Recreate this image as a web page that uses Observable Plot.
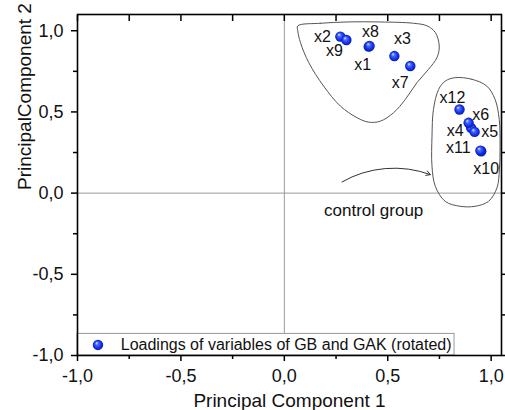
<!DOCTYPE html>
<html><head><meta charset="utf-8">
<script src="https://cdn.jsdelivr.net/npm/d3@7"></script>
<script src="https://cdn.jsdelivr.net/npm/@observablehq/plot@0.6"></script>
<style>body{margin:0;background:#fff;} svg{display:block;}</style>
</head><body><div id="chart"></div>
<script>
// ---- data ----
const variables = ["x1","x2","x3","x4","x5","x6","x7","x8","x9","x10","x11","x12"];
const pc1 = [0.408, 0.271, 0.532, 0.903, 0.920, 0.891, 0.609, 0.412, 0.300, 0.952, 0.948, 0.847];
const pc2 = [0.902, 0.964, 0.844, 0.402, 0.377, 0.433, 0.783, 0.906, 0.943, 0.258, 0.262, 0.515];
const majorTicks = [-1, -0.5, 0, 0.5, 1];
const minorTicks = [-0.75, -0.25, 0.25, 0.75];
const legendLabel = "Loadings of variables of GB and GAK (rotated)";
const xTitle = "Principal Component 1";
const yTitle = "PrincipalComponent 2";
const groupNote = "control group";

// hand-drawn group outlines (data coordinates)
const outlineUpper = [[0.065,1.030],[0.175,1.046],[0.303,1.054],[0.464,1.054],[0.625,1.046],[0.690,1.030],[0.730,0.989],[0.749,0.906],[0.738,0.835],[0.697,0.762],[0.641,0.680],[0.585,0.577],[0.528,0.495],[0.464,0.443],[0.408,0.437],[0.352,0.464],[0.271,0.536],[0.190,0.659],[0.118,0.804],[0.078,0.927],[0.065,0.999]];
const outlineControl = [[0.826,0.711],[0.907,0.701],[0.979,0.659],[1.019,0.577],[1.039,0.454],[1.043,0.289],[1.040,0.145],[1.028,0.032],[0.987,-0.051],[0.923,-0.081],[0.850,-0.081],[0.778,-0.051],[0.730,0.042],[0.714,0.165],[0.714,0.351],[0.721,0.515],[0.746,0.639],[0.778,0.690]];
const noteArrow = [{x1: 0.279, y1: 0.069, x2: 0.706, y2: 0.114}];
const noteText = [{x: 0.432, y: -0.143, text: groupNote}];
const legendBox = [{x1: -1, x2: 0.823, y1: -1, y2: -0.867}];
const legendItem = [{x: -0.901, tx: -0.791, y: -0.935, text: legendLabel}];

// label offsets in pixels relative to each point
const labelOffsets = {x1:[-6,18], x2:[-18,0], x3:[8,-17], x4:[-16,3], x5:[15,0], x6:[12,-8], x7:[-10,17], x8:[1,-14], x9:[-12,11], x10:[5,18], x11:[-22,-3], x12:[-7,-12]};

const points = variables.map((name, i) => ({name, x: pc1[i], y: pc2[i]}));
const fmt = d => d.toFixed(1).replace(".", ",");
const none = () => "";

const chart = Plot.plot({
  width: 505, height: 410,
  marginLeft: 77, marginRight: 4, marginTop: 14, marginBottom: 55,
  style: {fontFamily: "'Liberation Sans', Arial, sans-serif", color: "#111", background: "white", overflow: "visible"},
  x: {domain: [-1, 1.05]},
  y: {domain: [-1, 1.1]},
  marks: [
    Plot.ruleX([0], {stroke: "#9a9a9a", strokeWidth: 1}),
    Plot.ruleY([0], {stroke: "#9a9a9a", strokeWidth: 1}),
    Plot.line(outlineUpper, {x: d => d[0], y: d => d[1], curve: "catmull-rom-closed", stroke: "#555", strokeWidth: 1}),
    Plot.line(outlineControl, {x: d => d[0], y: d => d[1], curve: "catmull-rom-closed", stroke: "#555", strokeWidth: 1}),
    Plot.arrow(noteArrow, {x1: "x1", y1: "y1", x2: "x2", y2: "y2", bend: 25, stroke: "#333", strokeWidth: 1, headLength: 7}),
    Plot.text(noteText, {x: "x", y: "y", text: "text", fontSize: 17, lineAnchor: "bottom", textAnchor: "middle", fill: "#111"}),
    Plot.dot(points, {x: "x", y: "y", r: 5.2, fill: "url(#ball)", stroke: "none"}),
    ...points.map(p => Plot.text([p], {x: "x", y: "y", text: "name", fontSize: 16, fill: "#111",
      dx: labelOffsets[p.name][0], dy: labelOffsets[p.name][1], lineAnchor: "middle", textAnchor: "middle"})),
    Plot.rect(legendBox, {x1: "x1", x2: "x2", y1: "y1", y2: "y2", fill: "white", stroke: "#999", strokeWidth: 1}),
    Plot.dot(legendItem, {x: "x", y: "y", r: 5.2, fill: "url(#ball)", stroke: "none"}),
    Plot.text(legendItem, {x: "tx", y: "y", text: "text", fontSize: 16, textAnchor: "start", lineAnchor: "middle", fill: "#111"}),
    Plot.axisX(majorTicks, {anchor: "bottom", tickSize: 6, tickPadding: 8, tickFormat: fmt, fontSize: 18, label: null, strokeWidth: 1.5, stroke: "black"}),
    Plot.axisX(minorTicks, {anchor: "bottom", tickSize: 4, tickFormat: none, label: null, strokeWidth: 1.5, stroke: "black"}),
    Plot.axisX(majorTicks.concat(minorTicks), {anchor: "top", tickSize: -6, tickFormat: none, label: null, strokeWidth: 1.5, stroke: "black"}),
    Plot.axisY(majorTicks, {anchor: "left", tickSize: 6, tickPadding: 8, tickFormat: fmt, fontSize: 18, label: null, strokeWidth: 1.5, stroke: "black"}),
    Plot.axisY(minorTicks, {anchor: "left", tickSize: 4, tickFormat: none, label: null, strokeWidth: 1.5, stroke: "black"}),
    Plot.axisY(majorTicks.concat(minorTicks), {anchor: "right", tickSize: 4, tickFormat: none, label: null, strokeWidth: 1.5, stroke: "black"}),
    Plot.text([xTitle], {frameAnchor: "bottom", dy: 51, lineAnchor: "bottom", fontSize: 19, fill: "#111"}),
    Plot.text([yTitle], {frameAnchor: "left", dx: -47, dy: 5, rotate: -90, lineAnchor: "bottom", fontSize: 19, fill: "#111"}),
    Plot.frame({stroke: "black", strokeWidth: 1.6})
  ]
});

const svg = d3.select(chart);
const defs = svg.insert("defs", ":first-child");
const grad = defs.append("radialGradient").attr("id", "ball")
  .attr("cx", "50%").attr("cy", "50%").attr("r", "50%").attr("fx", "35%").attr("fy", "30%");
grad.append("stop").attr("offset", "0%").attr("stop-color", "#e6ecff");
grad.append("stop").attr("offset", "30%").attr("stop-color", "#4d6bff");
grad.append("stop").attr("offset", "70%").attr("stop-color", "#1434f2");
grad.append("stop").attr("offset", "100%").attr("stop-color", "#0a1ba8");
document.getElementById("chart").appendChild(chart);
</script>
</body></html>
